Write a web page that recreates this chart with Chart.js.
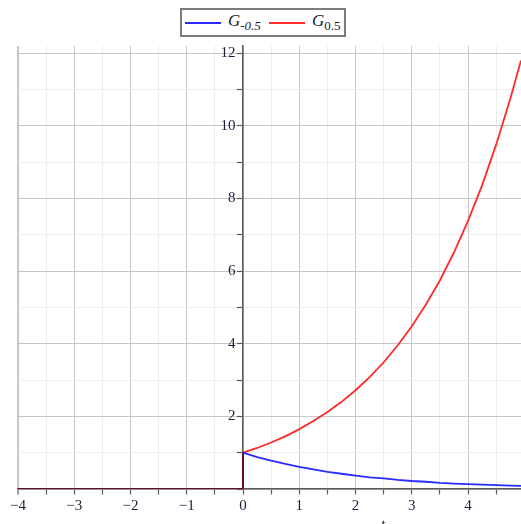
<!DOCTYPE html>
<html><head><meta charset="utf-8">
<script src="https://cdn.jsdelivr.net/npm/chart.js@4"></script>
<style>
html,body{margin:0;padding:0;width:521px;height:524px;overflow:hidden;background:#fff;}
#wrap{position:relative;width:521px;height:524px;overflow:hidden;}
#legend{position:absolute;left:180px;top:8px;width:162px;height:25px;border:2px solid #7a7a7a;background:#fff;
  font-family:"Liberation Serif","DejaVu Serif",serif;font-size:17px;color:#1a1a3a;display:flex;align-items:center;}
.item{display:flex;align-items:center;margin-left:3px;}
.sw{display:inline-block;width:36px;height:2px;margin-right:7px;}
.lab i{font-style:italic;}
.lab sub{font-size:13px;vertical-align:-4px;}
#tlab{position:absolute;left:381px;top:516px;font-family:"Liberation Serif",serif;font-style:italic;font-size:15px;color:#222;}
</style></head>
<body><div id="wrap">
<canvas id="c" width="521" height="524"></canvas>
<div id="legend">
  <div class="item"><span class="sw" style="background:#2a2aff"></span><span class="lab"><i>G</i><sub><i>-0.5</i></sub></span></div>
  <div class="item" style="margin-left:8px"><span class="sw" style="background:#ff2a2a"></span><span class="lab"><i>G</i><sub>0.5</sub></span></div>
</div>
<span id="tlab">t</span>
</div>
<script>
// data
const tValues    = [-4, 0, 0, 0.25, 0.5, 0.75, 1, 1.25, 1.5, 1.75, 2, 2.25, 2.5, 2.75, 3, 3.25, 3.5, 3.75, 4, 4.25, 4.5, 4.75, 4.94];
const gNegValues = [0, 0, 1, 0.88, 0.78, 0.69, 0.61, 0.54, 0.47, 0.42, 0.37, 0.32, 0.29, 0.25, 0.22, 0.20, 0.17, 0.15, 0.135, 0.12, 0.105, 0.093, 0.085];
const gPosValues = [0, 0, 1, 1.13, 1.28, 1.45, 1.65, 1.87, 2.12, 2.40, 2.72, 3.08, 3.49, 3.96, 4.48, 5.08, 5.75, 6.52, 7.39, 8.37, 9.49, 10.75, 11.8];
const seriesNames = ['G-0.5', 'G0.5'];
const xTickLabels = [-4, -3, -2, -1, 0, 1, 2, 3, 4];
const yTickLabels = [2, 4, 6, 8, 10, 12];

const overlapColor = '#6e0a2c';
function pts(ys){ return tValues.map((t,i)=>({x:t,y:ys[i]})); }
function seg(base){
  return { borderColor: ctx => (ctx.p0.parsed.x <= 0 && ctx.p1.parsed.x <= 0) ? overlapColor : base };
}
const isMajorX = v => Math.abs(v - Math.round(v)) < 1e-6;
const isMajorY = v => Math.abs(v/2 - Math.round(v/2)) < 1e-6;
const fmt = v => (v < 0 ? '\u2212' + Math.abs(v) : String(v));

new Chart(document.getElementById('c'), {
  type: 'line',
  data: { datasets: [
    { label: seriesNames[0], data: pts(gNegValues), borderColor: '#2a2aff', borderWidth: 1.8, pointRadius: 0, tension: 0, segment: seg('#2a2aff') },
    { label: seriesNames[1], data: pts(gPosValues), borderColor: '#ff2a2a', borderWidth: 1.8, pointRadius: 0, tension: 0, segment: seg('#ff2a2a') }
  ]},
  options: {
    responsive: false, animation: false, parsing: true,
    layout: { padding: { left: 18, right: 0, top: 46, bottom: 35 } },
    plugins: { legend: { display: false }, tooltip: { enabled: false } },
    scales: {
      x: {
        type: 'linear', position: { y: 0 }, min: -4, max: 4.94,
        border: { display: true, color: '#5a5a5a', width: 1.5 },
        grid: {
          color: c => isMajorX(c.tick.value) ? '#c6c6c6' : '#ededed',
          lineWidth: c => (c.tick.value === -4 ? 2 : 1),
          drawTicks: true, tickLength: 5, tickColor: '#5a5a5a', tickWidth: 1.2
        },
        ticks: {
          stepSize: 0.5, includeBounds: false, autoSkip: false, maxRotation: 0, padding: 3,
          color: '#1e1e3c', font: { family: 'Liberation Serif', size: 15 },
          callback: v => (xTickLabels.includes(v) ? fmt(v) : '')
        }
      },
      y: {
        type: 'linear', position: { x: 0 }, min: 0, max: 12.2,
        border: { display: true, color: '#5a5a5a', width: 1.5 },
        grid: {
          color: c => isMajorY(c.tick.value) ? '#c6c6c6' : '#ededed',
          drawTicks: true, tickLength: 5, tickColor: '#5a5a5a', tickWidth: 1.2
        },
        ticks: {
          stepSize: 1, includeBounds: false, autoSkip: false, padding: 1,
          color: '#1e1e3c', font: { family: 'Liberation Serif', size: 15 },
          // trailing spaces keep the right-aligned label clear of the centred axis
          callback: v => (yTickLabels.includes(v) ? String(v) + '  ' : '')
        }
      }
    }
  }
});
</script>
</body></html>
